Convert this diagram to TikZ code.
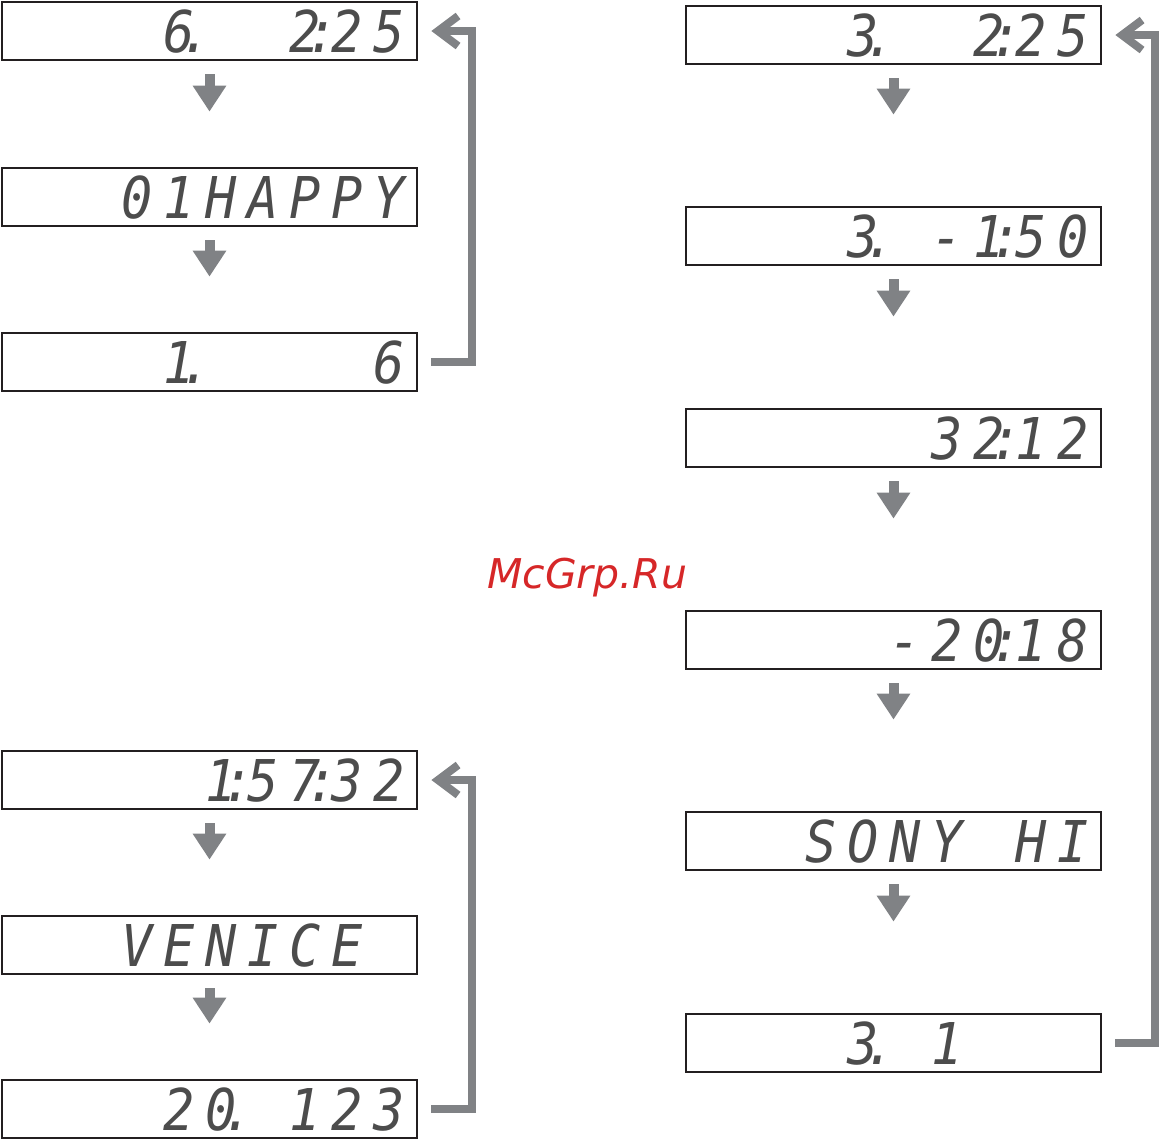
\documentclass[tikz,border=0pt]{standalone}
\usepackage{fontspec}
\usepackage{tikz}
\usetikzlibrary{arrows.meta, positioning}
\definecolor{boxline}{RGB}{35,31,32}
\definecolor{arrowgray}{RGB}{128,130,133}
\definecolor{mcred}{RGB}{214,39,40}
\newfontfamily\lcdfont{DejaVu Sans Mono Oblique}[FakeStretch=0.9]
\newfontfamily\wmfont{DejaVu Sans Oblique}
% one display cell per character; . and : sit between cells, * is a blank cell
\newcommand{\lseg}[1]{\hbox to 0pt{\kern-0.34em #1\hss}}
\newcommand{\lcdchar}[1]{\if#1.\lseg{.}\else\if#1:\lseg{:}\else\if#1*\hbox to 42pt{}\else\hbox to 42pt{\hss#1\hss}\fi\fi\fi}
\newcommand{\lcdloop}[1]{\ifx#1\relax\else\lcdchar{#1}\expandafter\lcdloop\fi}
\newcommand{\lcd}[1]{\lcdloop#1\relax}

\begin{document}
\begin{tikzpicture}[x=1pt, y=-1pt,
    disp/.style={draw=boxline, line width=2.8pt, minimum width=415pt, minimum height=58pt,
        inner xsep=7pt, inner ysep=0pt, text width=401pt, align=right, text height=42pt, text depth=0pt,
        font=\lcdfont\fontsize{57.6}{60}\selectfont, text=black!70},
    ldown/.style={arrowgray, line width=10pt, -{Triangle[length=26pt,width=32pt]},
        shorten <=13pt, shorten >=55pt},
    rdown/.style={ldown, shorten >=91pt},
    backline/.style={arrowgray, line width=8pt, -{Straight Barb[length=20pt,width=30pt]}}]
    \useasboundingbox (0,0) rectangle (1161,1141);

    % Left, top group
    \node[disp] (a1) at (209.5,31) {\lcd{6.**2:25}};
    \node[disp] (a2) at (209.5,197) {\lcd{01HAPPY}};
    \node[disp] (a3) at (209.5,362) {\lcd{1.****6}};
    \draw[ldown] (a1) -- (a2);
    \draw[ldown] (a2) -- (a3);
    \draw[backline] ([xshift=13pt]a3.east) -- ([xshift=54pt]a3.east) |- ([xshift=13pt]a1.east);

    % Left, bottom group
    \node[disp] (a4) at (209.5,780) {\lcd{1:57:32}};
    \node[disp] (a5) at (209.5,945) {\lcd{VENICE*}};
    \node[disp] (a6) at (209.5,1109) {\lcd{20.*123}};
    \draw[ldown] (a4) -- (a5);
    \draw[ldown] (a5) -- (a6);
    \draw[backline] ([xshift=13pt]a6.east) -- ([xshift=54pt]a6.east) |- ([xshift=13pt]a4.east);

    % Right group
    \node[disp] (b1) at (893.5,35) {\lcd{3.**2:25}};
    \node[disp] (b2) at (893.5,236) {\lcd{3.*-1:50}};
    \node[disp] (b3) at (893.5,438) {\lcd{32:12}};
    \node[disp] (b4) at (893.5,640) {\lcd{-20:18}};
    \node[disp] (b5) at (893.5,841) {\lcd{SONY*HI}};
    \node[disp] (b6) at (893.5,1043) {\lcd{3.*1***}};
    \draw[rdown] (b1) -- (b2);
    \draw[rdown] (b2) -- (b3);
    \draw[rdown] (b3) -- (b4);
    \draw[rdown] (b4) -- (b5);
    \draw[rdown] (b5) -- (b6);
    \draw[backline] ([xshift=13pt]b6.east) -- ([xshift=53pt]b6.east) |- ([xshift=13pt]b1.east);

    \node[anchor=base west, text=mcred, font=\wmfont\fontsize{41}{44}\selectfont, inner sep=0pt] (wm) at (487,588) {McGrp.Ru};
\end{tikzpicture}
\end{document}
